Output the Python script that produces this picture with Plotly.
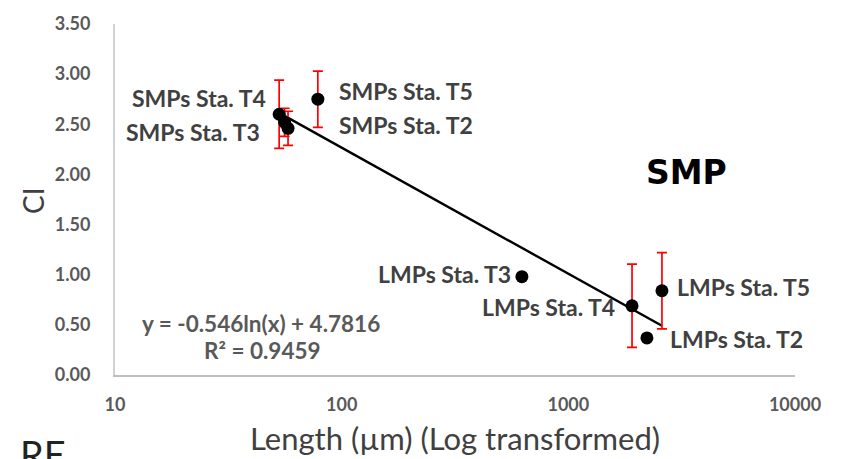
import numpy as np
import plotly.graph_objects as go

# ---- data ----
labels = ["SMPs Sta. T4", "SMPs Sta. T3", "SMPs Sta. T2", "SMPs Sta. T5",
          "LMPs Sta. T3", "LMPs Sta. T4", "LMPs Sta. T2", "LMPs Sta. T5"]
length_um = [53, 58, 56, 78.5, 624, 1910, 2222, 2588]
ci_values = [2.60, 2.46, 2.52, 2.75, 0.98, 0.69, 0.37, 0.84]
ci_error = [0.34, 0.17, 0.14, 0.28, 0.0, 0.415, 0.0, 0.38]

fit_slope = -0.546
fit_intercept = 4.7816
fit_r2 = 0.9459

x_ticks = [10, 100, 1000, 10000]
y_ticks = [0.0, 0.5, 1.0, 1.5, 2.0, 2.5, 3.0, 3.5]

# label placement offsets (pixels): (xanchor, xshift, yshift)
label_offsets = {
    "SMPs Sta. T4": ("right", -11, 16),
    "SMPs Sta. T3": ("right", -26, -4),
    "SMPs Sta. T2": ("left", 52, -3),
    "SMPs Sta. T5": ("left", 19, 8),
    "LMPs Sta. T3": ("right", -9, 3),
    "LMPs Sta. T4": ("right", -15, -1),
    "LMPs Sta. T2": ("left", 21, -1),
    "LMPs Sta. T5": ("left", 13, 4),
}

W, H = 842, 459
L, R, T, B = 115, 47, 14, 84
PW, PH = W - L - R, H - T - B


def px(x):
    return (x - L) / PW


def py(y):
    return (H - B - y) / PH


FONT = "Lato, Carlito, Calibri, sans-serif"

fig = go.Figure()

# trend line from the fitted equation
xs = np.geomspace(min(length_um), max(length_um), 50)
fig.add_trace(go.Scatter(
    x=xs, y=fit_slope * np.log(xs) + fit_intercept,
    mode="lines", line=dict(color="black", width=2.4),
    hoverinfo="skip", showlegend=False))

fig.add_trace(go.Scatter(
    x=length_um, y=ci_values, mode="markers",
    marker=dict(color="black", size=13),
    error_y=dict(type="data", array=ci_error, visible=True,
                 color="#ff0000", thickness=1.7, width=5),
    showlegend=False))

lab_font = dict(family=FONT, size=23, color="#404040")
for lab, xv, yv in zip(labels, length_um, ci_values):
    anchor, xs_, ys_ = label_offsets[lab]
    fig.add_annotation(x=np.log10(xv), y=yv, xref="x", yref="y",
                       text="<b>%s</b>" % lab, showarrow=False,
                       xanchor=anchor, yanchor="middle",
                       xshift=xs_, yshift=ys_, font=lab_font)

eq_font = dict(family=FONT, size=22.5, color="#595959")
fig.add_annotation(x=px(261), y=py(322), xref="paper", yref="paper",
                   text="<b>y = %.3fln(x) + %.4f</b>" % (fit_slope, fit_intercept),
                   showarrow=False, xanchor="center", yanchor="middle", font=eq_font)
fig.add_annotation(x=px(262), y=py(350), xref="paper", yref="paper",
                   text="<b>R² = %.4f</b>" % fit_r2,
                   showarrow=False, xanchor="center", yanchor="middle", font=eq_font)

fig.add_annotation(x=px(686), y=py(167), xref="paper", yref="paper",
                   text="<b>SMP</b>", showarrow=False, xanchor="center", yanchor="middle",
                   font=dict(family="DejaVu Sans, Arial, sans-serif", size=33, color="black"))

# axis titles
fig.add_annotation(x=px(455), y=py(440), xref="paper", yref="paper",
                   text="Length (µm) (Log transformed)", showarrow=False,
                   xanchor="center", yanchor="middle",
                   font=dict(family=FONT, size=31, color="#404040"))
fig.add_annotation(x=px(33), y=py(196), xref="paper", yref="paper",
                   text="CI", showarrow=False, textangle=-90,
                   xanchor="center", yanchor="middle",
                   font=dict(family=FONT, size=28, color="#404040"))

# cut-off panel label at bottom-left
fig.add_annotation(x=px(18), y=py(431), xref="paper", yref="paper",
                   text="RE", showarrow=False, xanchor="left", yanchor="top",
                   font=dict(family=FONT, size=38, color="#222222"))

tick_font = dict(family=FONT, size=18, color="#595959")
fig.update_xaxes(type="log", range=[1, 4], tickvals=x_ticks,
                 ticktext=["<b>%d</b>" % v for v in x_ticks],
                 showgrid=False, zeroline=False, showline=True,
                 linecolor="#bfbfbf", linewidth=2, ticks="",
                 tickfont=tick_font, ticklabelstandoff=12,
                 ticklabeloverflow="allow")
fig.update_yaxes(range=[0, 3.5], tickvals=y_ticks,
                 ticktext=["<b>%.2f</b>" % v for v in y_ticks],
                 showgrid=False, zeroline=False, showline=True,
                 linecolor="#d0d0d0", linewidth=2, ticks="",
                 tickfont=tick_font, ticklabelstandoff=19,
                 ticklabeloverflow="allow")

fig.update_layout(width=W, height=H,
                  margin=dict(l=L, r=R, t=T, b=B),
                  paper_bgcolor="white", plot_bgcolor="white",
                  showlegend=False)

fig.write_html("out.html", config={"displayModeBar": False})
